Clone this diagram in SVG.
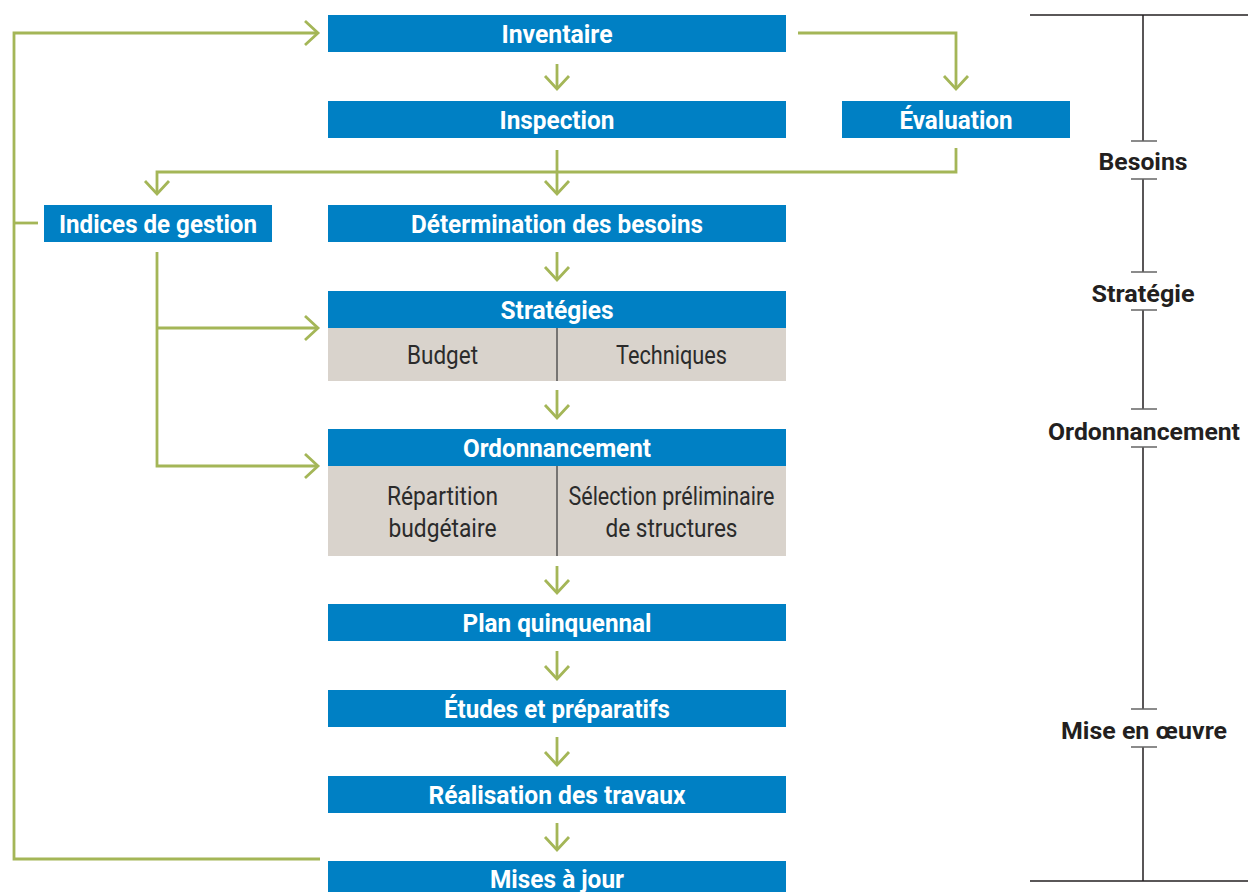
<svg xmlns="http://www.w3.org/2000/svg" width="1248" height="892" viewBox="0 0 1248 892">
<style>
.box{fill:#0080C4}
.sub{fill:#D9D3CC}
.t{font-family:Roboto,"Liberation Sans",sans-serif;font-weight:700;font-size:26.5px;fill:#fff;text-anchor:middle}
.g{font-family:Roboto,"Liberation Sans",sans-serif;font-weight:400;font-size:25px;fill:#2b2b2b;text-anchor:middle}
.r{font-family:Roboto,"Liberation Sans",sans-serif;font-weight:700;font-size:24px;fill:#231f20;text-anchor:middle}
.c{fill:none;stroke:#A4B657;stroke-width:2.8}
.tl{fill:none;stroke:#231f20;stroke-width:1.5}
.tk{fill:none;stroke:#666;stroke-width:1.5}
.div{stroke:#555;stroke-width:1.5}
</style>
<defs>
<marker id="ah" viewBox="-16 -16 32 32" markerWidth="32" markerHeight="32" markerUnits="userSpaceOnUse" refX="0" refY="0" orient="auto">
<path d="M-13,-12 L0,0 L-13,12" fill="none" stroke="#A4B657" stroke-width="2.8"/>
</marker>
</defs>
<rect width="1248" height="892" fill="#fff"/>

<g id="connectors">
<path class="c" d="M557,64 V89" marker-end="url(#ah)"/>
<path class="c" d="M798,33 H956 V89" marker-end="url(#ah)"/>
<path class="c" d="M557,150 V194" marker-end="url(#ah)"/>
<path class="c" d="M956,148 V172 H157 V194" marker-end="url(#ah)"/>
<path class="c" d="M557,252 V280" marker-end="url(#ah)"/>
<path class="c" d="M557,390 V418" marker-end="url(#ah)"/>
<path class="c" d="M557,566 V593" marker-end="url(#ah)"/>
<path class="c" d="M557,651 V679" marker-end="url(#ah)"/>
<path class="c" d="M557,737 V765" marker-end="url(#ah)"/>
<path class="c" d="M557,823 V850" marker-end="url(#ah)"/>
<path class="c" d="M157,252 V466 H318" marker-end="url(#ah)"/>
<path class="c" d="M157,328 H318" marker-end="url(#ah)"/>
<path class="c" d="M320,859 H14 V33 H318" marker-end="url(#ah)"/>
<path class="c" d="M14,223 H38"/>
</g>

<g id="inventaire"><rect class="box" x="328" y="15" width="458" height="37"/><text class="t" x="557" y="43" textLength="111" lengthAdjust="spacingAndGlyphs">Inventaire</text></g>
<g id="inspection"><rect class="box" x="328" y="101" width="458" height="37"/><text class="t" x="557" y="129" textLength="115" lengthAdjust="spacingAndGlyphs">Inspection</text></g>
<g id="evaluation"><rect class="box" x="842" y="101" width="228" height="37"/><text class="t" x="956" y="129" textLength="113" lengthAdjust="spacingAndGlyphs">Évaluation</text></g>
<g id="indices"><rect class="box" x="44" y="205" width="228" height="37"/><text class="t" x="158" y="233" textLength="198" lengthAdjust="spacingAndGlyphs">Indices de gestion</text></g>
<g id="determination"><rect class="box" x="328" y="205" width="458" height="37"/><text class="t" x="557" y="233" textLength="292" lengthAdjust="spacingAndGlyphs">Détermination des besoins</text></g>
<g id="strategies">
<rect class="box" x="328" y="291" width="458" height="37"/><text class="t" x="557" y="319" textLength="113" lengthAdjust="spacingAndGlyphs">Stratégies</text>
<rect class="sub" x="328" y="328" width="458" height="53"/>
<line class="div" x1="557" y1="328" x2="557" y2="381"/>
<text class="g" x="442.5" y="364" textLength="71" lengthAdjust="spacingAndGlyphs">Budget</text>
<text class="g" x="671.5" y="364" textLength="111" lengthAdjust="spacingAndGlyphs">Techniques</text>
</g>
<g id="ordonnancement">
<rect class="box" x="328" y="429" width="458" height="37"/><text class="t" x="557" y="457" textLength="188" lengthAdjust="spacingAndGlyphs">Ordonnancement</text>
<rect class="sub" x="328" y="466" width="458" height="90"/>
<line class="div" x1="557" y1="466" x2="557" y2="556"/>
<text class="g" x="442.5" y="505" textLength="111" lengthAdjust="spacingAndGlyphs">Répartition</text>
<text class="g" x="442.5" y="537" textLength="108" lengthAdjust="spacingAndGlyphs">budgétaire</text>
<text class="g" x="671.5" y="505" textLength="206" lengthAdjust="spacingAndGlyphs">Sélection préliminaire</text>
<text class="g" x="671.5" y="537" textLength="132" lengthAdjust="spacingAndGlyphs">de structures</text>
</g>
<g id="plan"><rect class="box" x="328" y="604" width="458" height="37"/><text class="t" x="557" y="632" textLength="189" lengthAdjust="spacingAndGlyphs">Plan quinquennal</text></g>
<g id="etudes"><rect class="box" x="328" y="690" width="458" height="37"/><text class="t" x="557" y="718" textLength="226" lengthAdjust="spacingAndGlyphs">Études et préparatifs</text></g>
<g id="realisation"><rect class="box" x="328" y="776" width="458" height="37"/><text class="t" x="557" y="804" textLength="257" lengthAdjust="spacingAndGlyphs">Réalisation des travaux</text></g>
<g id="misesajour"><rect class="box" x="328" y="861" width="458" height="37"/><text class="t" x="557" y="888" textLength="134" lengthAdjust="spacingAndGlyphs">Mises à jour</text></g>

<g id="timeline">
<line class="tl" x1="1030" y1="15" x2="1248" y2="15"/>
<line class="tl" x1="1030" y1="881" x2="1248" y2="881"/>
<path class="tl" d="M1143,15 V141 M1143,179 V272 M1143,310 V409 M1143,447 V709 M1143,747 V881"/>
<path class="tk" d="M1131,141 H1157 M1131,179 H1157 M1131,272 H1157 M1131,310 H1157 M1131,409 H1157 M1131,447 H1157 M1131,709 H1157 M1131,747 H1157"/>
<text class="r" x="1143" y="170" textLength="89" lengthAdjust="spacingAndGlyphs">Besoins</text>
<text class="r" x="1143" y="302" textLength="103" lengthAdjust="spacingAndGlyphs">Stratégie</text>
<text class="r" x="1144" y="440" textLength="192" lengthAdjust="spacingAndGlyphs">Ordonnancement</text>
<text class="r" x="1144" y="739" textLength="166" lengthAdjust="spacingAndGlyphs">Mise en œuvre</text>
</g>
</svg>
